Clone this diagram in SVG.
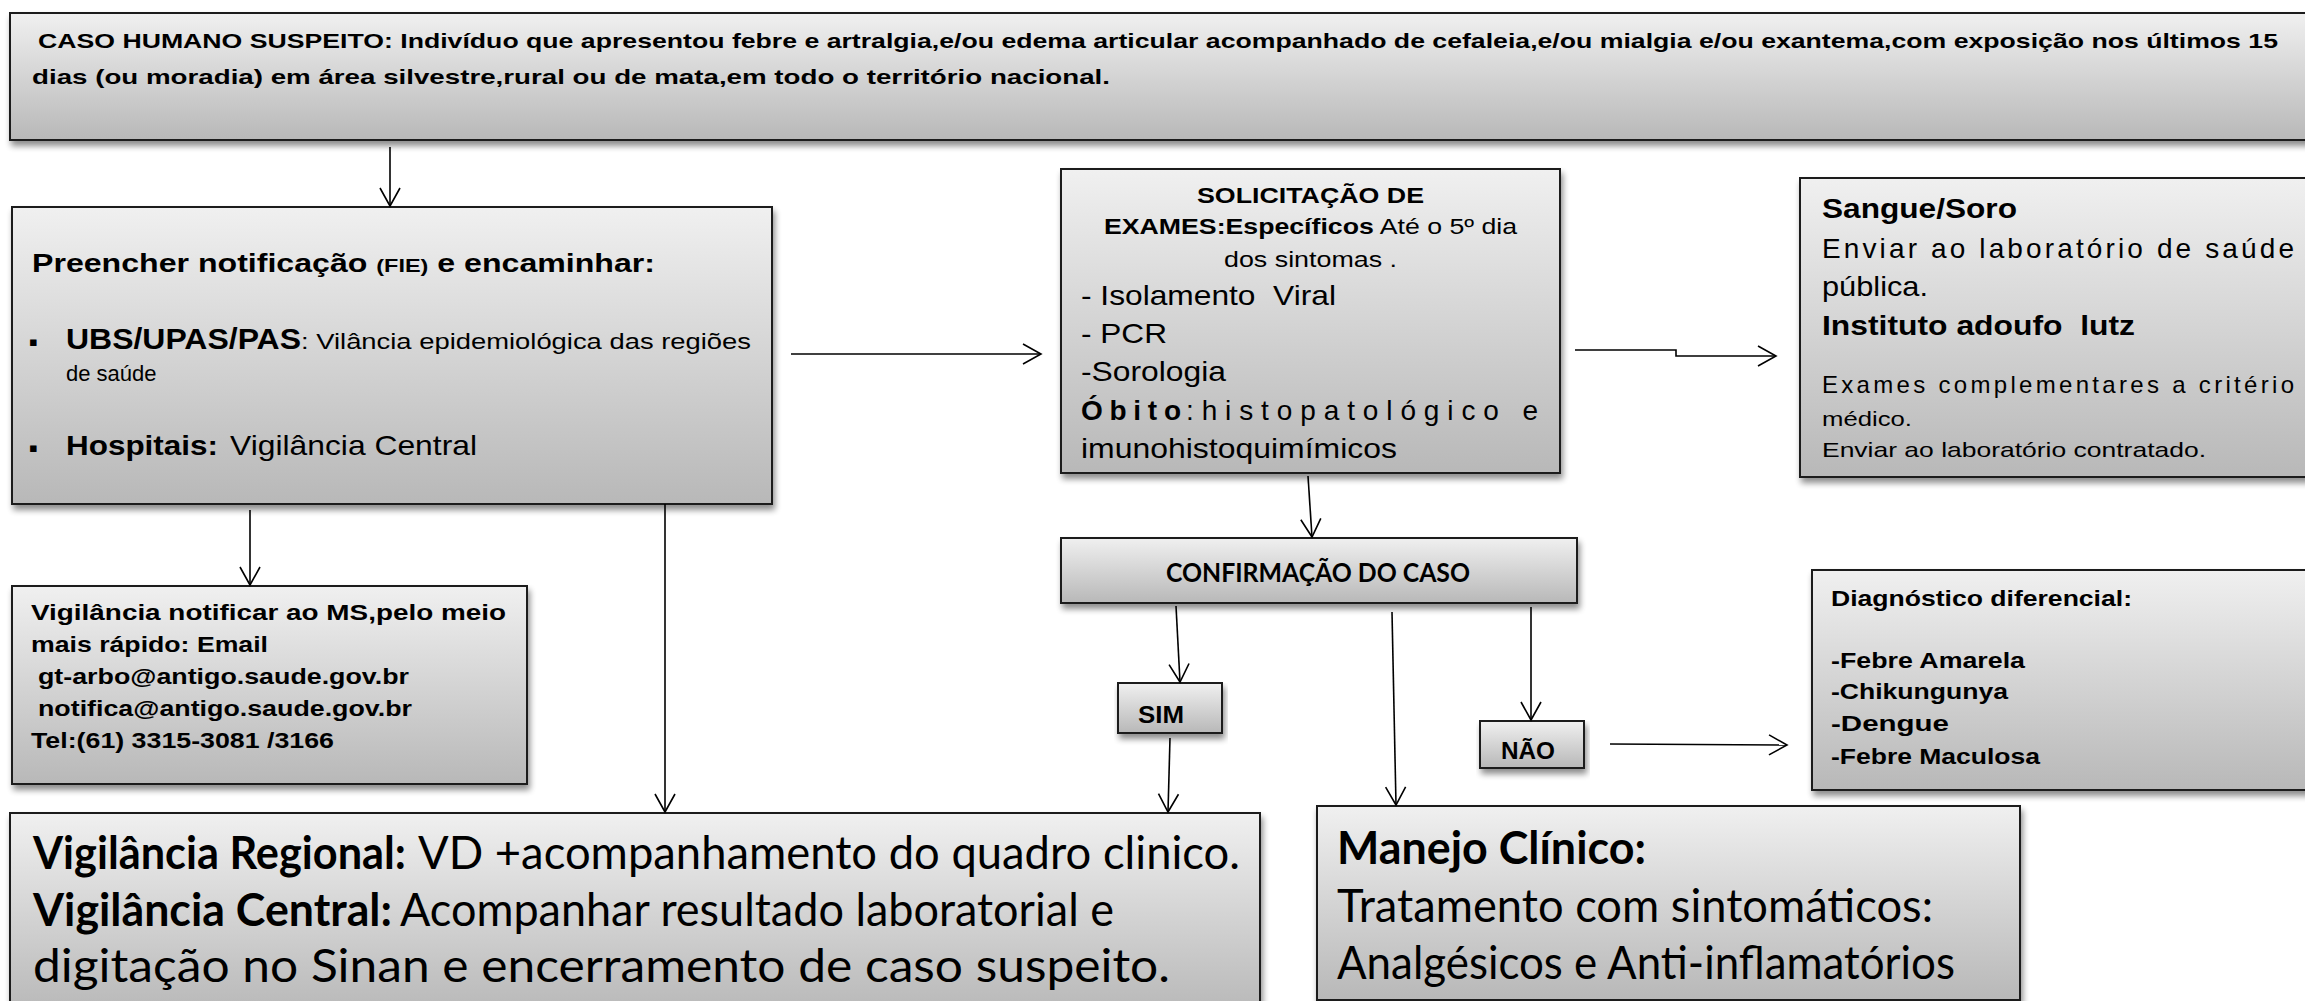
<svg xmlns="http://www.w3.org/2000/svg" width="2305" height="1001" viewBox="0 0 2305 1001">
<defs>
<linearGradient id="g" x1="0" y1="0" x2="0" y2="1">
<stop offset="0" stop-color="#f0f0f0"/>
<stop offset="1" stop-color="#b8b8b8"/>
</linearGradient>
<filter id="sh" x="-5%" y="-10%" width="110%" height="140%">
<feGaussianBlur in="SourceAlpha" stdDeviation="3"/>
<feOffset dx="2" dy="5"/>
<feComponentTransfer><feFuncA type="linear" slope="0.45"/></feComponentTransfer>
<feMerge><feMergeNode/><feMergeNode in="SourceGraphic"/></feMerge>
</filter>
<marker id="ah" markerUnits="userSpaceOnUse" markerWidth="20" markerHeight="20" refX="0" refY="0" orient="auto" overflow="visible">
<path d="M-18,-10 L0,0 L-18,10" fill="none" stroke="#000" stroke-width="1.6"/>
</marker>
<style>
.box{fill:url(#g);stroke:#1e1e1e;stroke-width:2;filter:url(#sh)}
text{fill:#000;white-space:pre}
.a{font-family:"Liberation Sans",Arial,sans-serif}
.c{font-family:Lato,"Open Sans",sans-serif}
.b{font-weight:bold}
.con{fill:none;stroke:#000;stroke-width:1.6;marker-end:url(#ah)}
</style>
</defs>

<g id="n-top">
<rect class="box" x="10" y="13" width="2310" height="127"/>
<text class="a b" x="38" y="48" font-size="21" textLength="2240" lengthAdjust="spacingAndGlyphs">CASO HUMANO SUSPEITO: Indivíduo que apresentou febre e artralgia,e/ou edema articular acompanhado de cefaleia,e/ou mialgia e/ou exantema,com exposição nos últimos 15</text>
<text class="a b" x="32" y="84" font-size="21" textLength="1078" lengthAdjust="spacingAndGlyphs">dias (ou moradia) em área silvestre,rural ou de mata,em todo o território nacional.</text>
</g>

<g id="n-notif">
<rect class="box" x="12" y="207" width="760" height="297"/>
<text class="a b" x="32" y="272" font-size="26" textLength="623" lengthAdjust="spacingAndGlyphs">Preencher notificação <tspan font-size="19">(FIE)</tspan> e encaminhar:</text>
<text x="29" y="346" font-size="13" font-family="DejaVu Sans,sans-serif">▪</text>
<text class="a b" x="66" y="349" font-size="29" textLength="235" lengthAdjust="spacingAndGlyphs">UBS/UPAS/PAS</text>
<text class="a" x="301" y="349" font-size="22" textLength="450" lengthAdjust="spacingAndGlyphs">: Vilância epidemiológica das regiões</text>
<text class="a" x="66" y="381" font-size="22">de saúde</text>
<text x="29" y="452" font-size="13" font-family="DejaVu Sans,sans-serif">▪</text>
<text class="a b" x="66" y="455" font-size="28" textLength="152" lengthAdjust="spacingAndGlyphs">Hospitais:</text>
<text class="a" x="230" y="455" font-size="28" textLength="247" lengthAdjust="spacingAndGlyphs">Vigilância Central</text>
</g>

<g id="n-vig">
<rect class="box" x="12" y="586" width="515" height="198"/>
<text class="a b" x="31" y="620" font-size="22" textLength="475" lengthAdjust="spacingAndGlyphs">Vigilância notificar ao MS,pelo meio</text>
<text class="a b" x="31" y="652" font-size="22" textLength="237" lengthAdjust="spacingAndGlyphs">mais rápido: Email</text>
<text class="a b" x="38" y="684" font-size="22" textLength="371" lengthAdjust="spacingAndGlyphs">gt-arbo@antigo.saude.gov.br</text>
<text class="a b" x="38" y="716" font-size="22" textLength="374" lengthAdjust="spacingAndGlyphs">notifica@antigo.saude.gov.br</text>
<text class="a b" x="31" y="748" font-size="22" textLength="303" lengthAdjust="spacingAndGlyphs">Tel:(61) 3315-3081 /3166</text>
</g>

<g id="n-exames">
<rect class="box" x="1061" y="169" width="499" height="304"/>
<text class="a b" x="1197" y="203" font-size="22" textLength="227" lengthAdjust="spacingAndGlyphs">SOLICITAÇÃO DE</text>
<text class="a" x="1104" y="234" font-size="22" textLength="413" lengthAdjust="spacingAndGlyphs"><tspan font-weight="bold">EXAMES:Específicos</tspan> Até o 5º dia</text>
<text class="a" x="1224" y="267" font-size="22" textLength="173" lengthAdjust="spacingAndGlyphs">dos sintomas .</text>
<text class="a" x="1081" y="305" font-size="28" textLength="255" lengthAdjust="spacingAndGlyphs">- Isolamento  Viral</text>
<text class="a" x="1081" y="343" font-size="28" textLength="86" lengthAdjust="spacingAndGlyphs">- PCR</text>
<text class="a" x="1081" y="381" font-size="28" textLength="145" lengthAdjust="spacingAndGlyphs">-Sorologia</text>
<text class="a b" x="1081" y="420" font-size="28" textLength="100" lengthAdjust="spacing">Óbito</text>
<text class="a" x="1186" y="420" font-size="28" textLength="352" lengthAdjust="spacing">:histopatológico e</text>
<text class="a" x="1081" y="458" font-size="28" textLength="316" lengthAdjust="spacingAndGlyphs">imunohistoquimímicos</text>
</g>

<g id="n-lab">
<rect class="box" x="1800" y="178" width="520" height="299"/>
<text class="a b" x="1822" y="218" font-size="27" textLength="195" lengthAdjust="spacingAndGlyphs">Sangue/Soro</text>
<text class="a" x="1822" y="258" font-size="28" textLength="472" lengthAdjust="spacing">Enviar ao laboratório de saúde</text>
<text class="a" x="1822" y="296" font-size="28" textLength="106" lengthAdjust="spacingAndGlyphs">pública.</text>
<text class="a b" x="1822" y="335" font-size="27" textLength="313" lengthAdjust="spacingAndGlyphs">Instituto adoufo  lutz</text>
<text class="a" x="1822" y="393" font-size="24" textLength="472" lengthAdjust="spacing">Exames complementares a critério</text>
<text class="a" x="1822" y="426" font-size="21" textLength="90" lengthAdjust="spacingAndGlyphs">médico.</text>
<text class="a" x="1822" y="457" font-size="21" textLength="384" lengthAdjust="spacingAndGlyphs">Enviar ao laboratório contratado.</text>
</g>

<g id="n-conf">
<rect class="box" x="1061" y="538" width="516" height="65"/>
<text class="c b" x="1166" y="582" font-size="27" textLength="304" lengthAdjust="spacingAndGlyphs">CONFIRMAÇÃO DO CASO</text>
</g>

<g id="n-sim">
<rect class="box" x="1118" y="683" width="104" height="50"/>
<text class="a b" x="1138" y="723" font-size="24" textLength="46" lengthAdjust="spacingAndGlyphs">SIM</text>
</g>

<g id="n-nao">
<rect class="box" x="1480" y="721" width="104" height="47"/>
<text class="a b" x="1501" y="759" font-size="24" textLength="54" lengthAdjust="spacingAndGlyphs">NÃO</text>
</g>

<g id="n-diag">
<rect class="box" x="1812" y="570" width="510" height="220"/>
<text class="a b" x="1831" y="606" font-size="22" textLength="301" lengthAdjust="spacingAndGlyphs">Diagnóstico diferencial:</text>
<text class="a b" x="1831" y="668" font-size="22" textLength="194" lengthAdjust="spacingAndGlyphs">-Febre Amarela</text>
<text class="a b" x="1831" y="699" font-size="22" textLength="177" lengthAdjust="spacingAndGlyphs">-Chikungunya</text>
<text class="a b" x="1831" y="731" font-size="22" textLength="118" lengthAdjust="spacingAndGlyphs">-Dengue</text>
<text class="a b" x="1831" y="764" font-size="22" textLength="209" lengthAdjust="spacingAndGlyphs">-Febre Maculosa</text>
</g>

<g id="n-vr">
<rect class="box" x="10" y="813" width="1250" height="200"/>
<text class="c b" x="33" y="869" font-size="46" textLength="373" lengthAdjust="spacingAndGlyphs">Vigilância Regional:</text>
<text class="c" x="418" y="869" font-size="46" textLength="822" lengthAdjust="spacingAndGlyphs">VD +acompanhamento do quadro clinico.</text>
<text class="c b" x="33" y="926" font-size="46" textLength="359" lengthAdjust="spacingAndGlyphs">Vigilância Central:</text>
<text class="c" x="400" y="926" font-size="46" textLength="714" lengthAdjust="spacingAndGlyphs">Acompanhar resultado laboratorial e</text>
<text class="c" x="33" y="982" font-size="46" textLength="1137" lengthAdjust="spacingAndGlyphs">digitação no Sinan e encerramento de caso suspeito.</text>
</g>

<g id="n-manejo">
<rect class="box" x="1317" y="806" width="703" height="194"/>
<text class="c b" x="1337" y="864" font-size="46" textLength="309" lengthAdjust="spacingAndGlyphs">Manejo Clínico:</text>
<text class="c" x="1337" y="922" font-size="46" textLength="596" lengthAdjust="spacingAndGlyphs">Tratamento com sintomáticos:</text>
<text class="c" x="1337" y="979" font-size="46" textLength="618" lengthAdjust="spacingAndGlyphs">Analgésicos e Anti-inflamatórios</text>
</g>

<g id="connectors">
<path class="con" d="M390,147 V206"/>
<path class="con" d="M791,354 H1041"/>
<path class="con" d="M1575,350 H1676 V356 H1776"/>
<path class="con" d="M1308,476 L1312,537"/>
<path class="con" d="M250,510 V585"/>
<path class="con" d="M665,504 V812"/>
<path class="con" d="M1176,606 L1180,682"/>
<path class="con" d="M1170,738 L1168,812"/>
<path class="con" d="M1392,612 L1396,805"/>
<path class="con" d="M1531,607 V720"/>
<path class="con" d="M1610,744 L1787,745"/>
</g>
</svg>
